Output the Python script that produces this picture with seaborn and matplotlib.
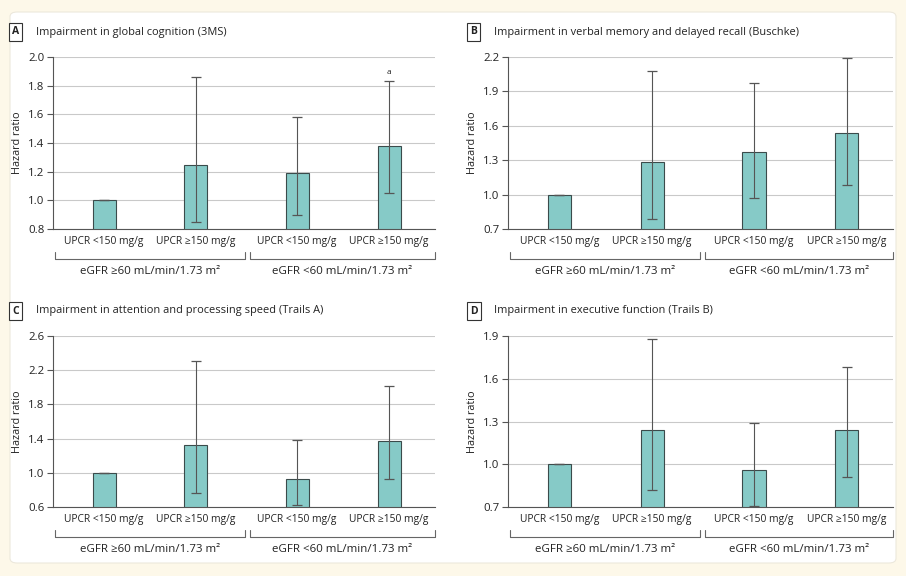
import numpy as np
import pandas as pd
import matplotlib
matplotlib.use("Agg")
import matplotlib.pyplot as plt
from matplotlib.patches import FancyBboxPatch
import seaborn as sns

# categories and groups
categories = ["UPCR <150 mg/g", "UPCR ≥150 mg/g", "UPCR <150 mg/g", "UPCR ≥150 mg/g"]
groups = ["eGFR ≥60 mL/min/1.73 m²", "eGFR <60 mL/min/1.73 m²"]

# hazard ratios and 95% CI
hr_a = [1.00, 1.25, 1.19, 1.38]
lo_a = [1.00, 0.85, 0.90, 1.05]
hi_a = [1.00, 1.86, 1.58, 1.83]

hr_b = [1.00, 1.28, 1.37, 1.54]
lo_b = [1.00, 0.79, 0.97, 1.08]
hi_b = [1.00, 2.08, 1.97, 2.19]

hr_c = [1.00, 1.32, 0.93, 1.37]
lo_c = [1.00, 0.76, 0.62, 0.93]
hi_c = [1.00, 2.31, 1.38, 2.02]

hr_d = [1.00, 1.24, 0.96, 1.24]
lo_d = [1.00, 0.82, 0.71, 0.91]
hi_d = [1.00, 1.88, 1.29, 1.68]

titles = ["Impairment in global cognition (3MS)",
          "Impairment in verbal memory and delayed recall (Buschke)",
          "Impairment in attention and processing speed (Trails A)",
          "Impairment in executive function (Trails B)"]
letters = ["A", "B", "C", "D"]
yticks_all = [[0.8, 1.0, 1.2, 1.4, 1.6, 1.8, 2.0],
              [0.7, 1.0, 1.3, 1.6, 1.9, 2.2],
              [0.6, 1.0, 1.4, 1.8, 2.2, 2.6],
              [0.7, 1.0, 1.3, 1.6, 1.9]]

# layout: bar positions with a wider gap between eGFR groups
x_pos = [0, 1, 2.1, 3.1]

sns.set_style("white")
plt.rcParams['font.family'] = ['Open Sans', 'DejaVu Sans']

bar_color = "#86cac7"
edge_color = "#3b4b4b"
err_color = "#555555"
grid_color = "#c9c9c9"
text_color = "#222222"

fig = plt.figure(figsize=(9.06, 5.76), dpi=100)
fig.patch.set_facecolor("#fdf8e9")
panel = FancyBboxPatch((10 / 906, 1 - 563 / 576), 886 / 906, 551 / 576,
                       boxstyle="round,pad=0,rounding_size=0.008",
                       transform=fig.transFigure, facecolor="white",
                       edgecolor="#ece8dc", linewidth=0.8, zorder=-5)
fig.add_artist(panel)

rects = [[53 / 906, 1 - 229 / 576, 382 / 906, 172 / 576],
         [508 / 906, 1 - 229 / 576, 385 / 906, 172 / 576],
         [53 / 906, 1 - 507 / 576, 382 / 906, 171 / 576],
         [508 / 906, 1 - 507 / 576, 385 / 906, 171 / 576]]
title_pos = [(12, 32), (470, 32), (12, 311), (470, 311)]

data = [(hr_a, lo_a, hi_a), (hr_b, lo_b, hi_b), (hr_c, lo_c, hi_c), (hr_d, lo_d, hi_d)]

for i, (hr, lo, hi) in enumerate(data):
    ax = fig.add_axes(rects[i])
    ax.patch.set_alpha(0)
    df = pd.DataFrame({"pos": x_pos, "hr": hr})
    sns.barplot(data=df, x="pos", y="hr", native_scale=True, width=0.25,
                color=bar_color, edgecolor=edge_color, linewidth=0.8,
                saturation=1, errorbar=None, ax=ax, zorder=2)
    hr_arr = np.array(hr)
    yerr = [hr_arr - np.array(lo), np.array(hi) - hr_arr]
    ax.errorbar(x_pos, hr, yerr=yerr, fmt="none", ecolor=err_color,
                elinewidth=0.8, capsize=3.3, capthick=0.9, zorder=3)

    yt = yticks_all[i]
    ax.set_ylim(yt[0], yt[-1])
    ax.set_yticks(yt)
    ax.set_yticklabels([f"{v:.1f}" for v in yt], fontsize=8.2, color=text_color)
    ax.set_xlim(-0.555, 3.6)
    ax.set_xticks(x_pos)
    ax.set_xticklabels(categories, fontsize=7.4, color=text_color)
    ax.tick_params(axis="x", length=0, pad=5)
    ax.tick_params(axis="y", length=4, width=0.8, color="#555555", pad=2, left=True)
    ax.set_xlabel("")
    ax.set_ylabel("Hazard ratio", fontsize=7.8, color=text_color, labelpad=4)
    ax.grid(axis="y", color=grid_color, linewidth=0.8)
    ax.set_axisbelow(True)
    for s in ["top", "right"]:
        ax.spines[s].set_visible(False)
    for s in ["left", "bottom"]:
        ax.spines[s].set_color("#555555")
        ax.spines[s].set_linewidth(0.8)

    # group brackets under the tick labels
    h = rects[i][3] * 576
    yb = -30 / h
    yt_ = -23 / h
    ygl = -42 / h
    w = rects[i][2] * 906
    spans = [(2 / w, 192 / w), (197 / w, 1.0)]
    for (x0, x1), g in zip(spans, groups):
        ax.plot([x0, x0, x1, x1], [yt_, yb, yb, yt_], transform=ax.transAxes,
                color="#666666", linewidth=0.8, clip_on=False)
        ax.text((x0 + x1) / 2, ygl, g, transform=ax.transAxes, ha="center",
                va="center", fontsize=8.25, color=text_color)

    if i == 0:
        ax.text(x_pos[3], 1.895, "a", ha="center", va="center", fontsize=6,
                color=text_color)

    tx, ty = title_pos[i]
    fig.text(tx / 906, 1 - ty / 576, letters[i], ha="left", va="center",
             fontsize=7.5, fontweight="bold", color=text_color,
             bbox=dict(boxstyle="square,pad=0.3", facecolor="white",
                       edgecolor="#333333", linewidth=0.8))
    fig.text((tx + 24) / 906, 1 - ty / 576, titles[i], ha="left", va="center",
             fontsize=7.9, color=text_color)

fig.savefig("out.png", dpi=100, facecolor=fig.get_facecolor())
